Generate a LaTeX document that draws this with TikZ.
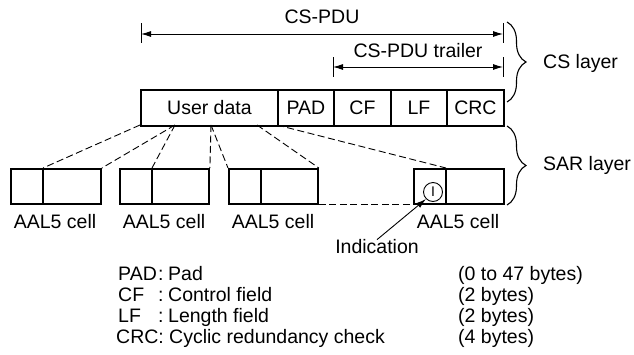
\documentclass[tikz,border=0pt]{standalone}
\usepackage{fontspec}
\setmainfont{Liberation Sans}
\usetikzlibrary{arrows.meta,decorations.pathreplacing}
\begin{document}
\begin{tikzpicture}[x=1pt,y=-1pt,
  font=\fontsize{19.5}{22}\selectfont,
  fld/.style={draw, line width=1.9pt, minimum height=36pt, inner sep=0pt, anchor=north west},
  cellbox/.style={draw, line width=1.9pt, minimum height=35pt, inner sep=0pt, anchor=north west},
  divline/.style={line width=1.2pt},
  dashline/.style={line width=0.9pt, dash pattern=on 7pt off 3.5pt},
  dimarrow/.style={line width=0.9pt, {Latex[length=10pt,width=6pt]}-{Latex[length=10pt,width=6pt]}},
  tickline/.style={line width=0.9pt},
  bracestyle/.style={line width=1.1pt, decorate, decoration={brace, amplitude=19pt, aspect=0.5}},
  lbl/.style={inner sep=0pt, anchor=base west},
  celllbl/.style={inner sep=0pt, anchor=base}]
\useasboundingbox (0,0) rectangle (634,354);

% CS-PDU main box
\node[fld, minimum width=137pt] (ud)  at (140,89) {User data};
\node[fld, minimum width=56pt]  (pad) at (277,89) {PAD};
\node[fld, minimum width=57pt]  (cf)  at (333,89) {CF};
\node[fld, minimum width=56pt]  (lf)  at (390,89) {LF};
\node[fld, minimum width=57pt]  (crc) at (446,89) {CRC};

% dimension arrows
\coordinate (pduL) at (141,34);
\coordinate (pduR) at (503,34);
\coordinate (t1a) at (141,23); \coordinate (t1b) at (141,43);
\coordinate (t2a) at (503,23); \coordinate (t2b) at (503,43);
\draw[tickline] (t1a) -- (t1b);
\draw[tickline] (t2a) -- (t2b);
\draw[dimarrow] (pduL) -- (pduR);
\node[inner sep=0pt] (pdulbl) at (322,17) {CS-PDU};

\coordinate (trL) at (333,67);
\coordinate (trR) at (503,67);
\coordinate (t3a) at (333,57); \coordinate (t3b) at (333,77);
\coordinate (t4a) at (503,57); \coordinate (t4b) at (503,77);
\draw[tickline] (t3a) -- (t3b);
\draw[tickline] (t4a) -- (t4b);
\draw[dimarrow] (trL) -- (trR);
\node[inner sep=0pt] (trlbl) at (418,51) {CS-PDU trailer};

% braces
\coordinate (bcsT) at (507,22);
\coordinate (bcsB) at (507,102);
\draw[bracestyle] (bcsT) -- (bcsB);
\node[lbl, anchor=west] (cslayer) at (543,63) {CS layer};
\coordinate (bsarT) at (507,126);
\coordinate (bsarB) at (507,205);
\draw[bracestyle] (bsarT) -- (bsarB);
\node[lbl, anchor=west] (sarlayer) at (543,165) {SAR layer};

% AAL5 cells
\node[cellbox, minimum width=90pt] (c1) at (10,168) {};
\node[cellbox, minimum width=89pt] (c2) at (119,168) {};
\node[cellbox, minimum width=89pt] (c3) at (228,168) {};
\node[cellbox, minimum width=90pt] (c4) at (413,168) {};
\coordinate (c1d) at (43,168);
\coordinate (c2d) at (152,168);
\coordinate (c3d) at (261,168);
\coordinate (c4d) at (446,168);
\draw[divline] (c1d) -- (c1d |- c1.south);
\draw[divline] (c2d) -- (c2d |- c2.south);
\draw[divline] (c3d) -- (c3d |- c3.south);
\draw[divline] (c4d) -- (c4d |- c4.south);

\node[celllbl] (l1) at (55,228) {AAL5 cell};
\node[celllbl] (l2) at (164,228) {AAL5 cell};
\node[celllbl] (l3) at (273,228) {AAL5 cell};
\node[celllbl] (l4) at (458,228) {AAL5 cell};

% dashed mapping lines
\coordinate (p1) at (140,125);
\coordinate (p2) at (175,125);
\coordinate (p3) at (211,125);
\coordinate (p4) at (257,125);
\coordinate (p5) at (277,125);
\draw[dashline] (p1) -- (c1d);
\draw[dashline] (p2) -- (c1.north east);
\draw[dashline] (p2) -- (c2d);
\draw[dashline] (p3) -- (c2.north east);
\draw[dashline] (p3) -- (c3.north west);
\draw[dashline] (p4) -- (c3.north east);
\draw[dashline] (p5) -- (c4d);
\draw[dashline] (c3.south east) -- (c4.south west);

% indication
\node[draw, circle, line width=0.9pt, minimum size=19pt, inner sep=0pt, fill=white,
      font=\fontsize{14}{14}\selectfont] (icirc) at (433,192) {I};
\node[inner sep=0pt] (ind) at (377,247) {Indication};
\draw[line width=0.9pt, -{Latex[length=10pt,width=6pt]}] (ind.north) -- (icirc.south west);

% legend
\node[lbl] (k1) at (118,280) {PAD};
\node[lbl] (k1c) at (158,280) {:};
\node[lbl] (d1) at (168,280) {Pad};
\node[lbl] (b1) at (458,280) {(0 to 47 bytes)};
\node[lbl] (k2) at (118,301) {CF};
\node[lbl] (k2c) at (158,301) {:};
\node[lbl] (d2) at (168,301) {Control field};
\node[lbl] (b2) at (458,301) {(2 bytes)};
\node[lbl] (k3) at (118,322) {LF};
\node[lbl] (k3c) at (158,322) {:};
\node[lbl] (d3) at (168,322) {Length field};
\node[lbl] (b3) at (458,322) {(2 bytes)};
\node[lbl] (k4) at (116,343) {CRC:};
\node[lbl] (d4) at (169,343) {Cyclic redundancy check};
\node[lbl] (b4) at (458,343) {(4 bytes)};
\end{tikzpicture}
\end{document}
